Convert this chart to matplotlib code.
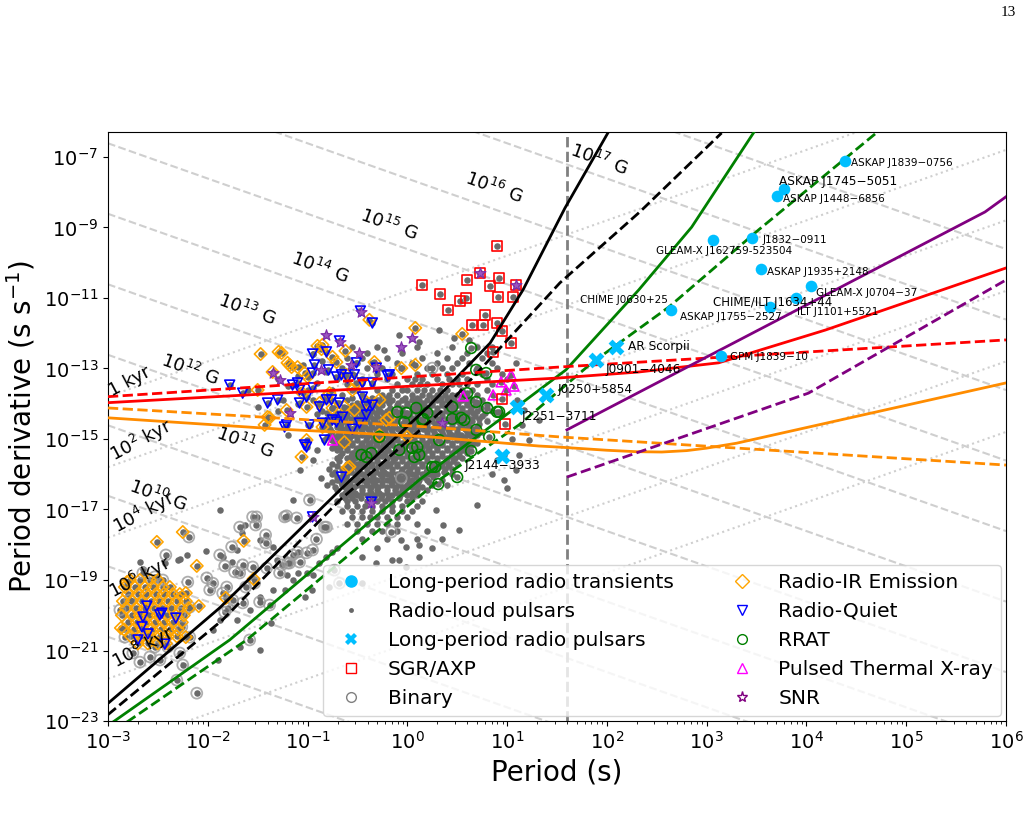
import matplotlib
matplotlib.use("Agg")
import matplotlib.pyplot as plt
from matplotlib.lines import Line2D
from matplotlib.ticker import NullLocator, LogLocator
import numpy as np

# all values below are log10 P [s] and log10 Pdot [s/s]

# long-period radio transients
lpt_names = ["ASKAP J1839\u22120756", "ASKAP J1745\u22125051", "ASKAP J1448\u22126856",
             "J1832\u22120911", "GLEAM-X J162759-523504", "ASKAP J1935+2148",
             "GLEAM-X J0704\u221237", "CHIME/ILT J1634+44", "ILT J1101+5521",
             "ASKAP J1755\u22122527", "GPM J1839\u221210"]
lpt_logp = [4.39, 3.78, 3.71, 3.45, 3.06, 3.54, 4.05, 3.90, 3.64, 2.64, 3.14]
lpt_logpdot = [-7.11, -7.91, -8.11, -9.30, -9.35, -10.18, -10.66, -11.00, -11.26, -11.34, -12.65]

# long-period radio pulsars
lprp_names = ["AR Scorpii", "J0901\u22124046", "J0250+5854", "J2251\u22123711", "J2144\u22123933"]
lprp_logp = [2.09, 1.89, 1.39, 1.10, 0.95]
lprp_logpdot = [-12.39, -12.76, -13.75, -14.09, -15.48]

sgr_axp = [(0.90, -9.52), (0.73, -10.29), (0.60, -10.49), (0.92, -10.43), (0.15, -10.63),
           (0.83, -10.66), (0.33, -10.89), (0.59, -11.00), (0.53, -11.09), (0.91, -10.97),
           (1.06, -10.97), (0.41, -11.34), (0.78, -11.48), (0.65, -11.77), (0.76, -11.77),
           (0.90, -11.71), (0.95, -11.94), (1.04, -12.28), (0.86, -12.53), (0.95, -13.87),
           (0.98, -14.57), (1.09, -10.63)]

snr = [(-0.81, -12.05), (-0.67, -12.25), (-1.35, -13.13), (-1.28, -13.33), (-0.48, -12.56),
       (-0.31, -12.96), (-0.06, -12.39), (0.05, -12.13), (-0.46, -11.40), (-1.18, -14.26),
       (-0.56, -12.90), (-0.86, -13.04), (0.35, -14.55), (-0.36, -16.82), (-0.95, -17.21),
       (0.73, -10.29), (1.09, -10.63)]

thermal_xray = [(1.04, -13.18), (0.94, -13.38), (1.07, -13.50), (0.99, -13.61),
                (0.86, -13.75), (0.56, -13.78), (-0.75, -15.03)]

rrat = [(0.64, -12.42), (0.69, -13.04), (0.79, -13.13), (-0.10, -14.23), (-0.01, -14.26),
        (0.09, -14.12), (0.16, -14.43), (-0.03, -14.52), (0.45, -14.09), (0.54, -14.40),
        (0.45, -14.43), (0.69, -13.95), (0.80, -14.12), (0.90, -14.23), (0.60, -13.70),
        (0.05, -15.26), (0.07, -15.51), (-0.46, -15.45), (-0.41, -15.51), (0.64, -15.34),
        (0.50, -16.08), (0.31, -16.28), (0.82, -14.94), (0.20, -14.26), (0.15, -14.46),
        (-0.36, -15.40), (0.10, -15.23), (0.12, -15.45), (0.32, -15.03), (0.57, -14.46),
        (0.92, -14.23), (0.28, -15.79), (-0.28, -14.94), (-0.08, -15.31), (0.25, -15.79),
        (0.69, -14.74)]

radio_ir = [(-1.47, -12.59), (-1.29, -12.53), (-1.20, -12.84), (-1.16, -12.96), (-1.35, -13.10),
            (-0.90, -12.36), (-0.86, -12.45), (-0.75, -12.67), (-0.62, -12.50), (-0.38, -11.62),
            (0.08, -11.85), (0.55, -12.02), (-0.33, -12.82), (-0.06, -12.99), (0.08, -12.90),
            (-1.10, -12.96), (-1.00, -13.24), (-1.05, -13.70), (-0.61, -13.18), (-0.55, -13.61),
            (-0.81, -13.81), (-1.38, -14.40), (-1.01, -14.09), (-0.75, -14.12), (-0.18, -14.40),
            (-0.28, -13.89), (-1.43, -14.60), (-1.50, -13.61), (-0.85, -12.33), (-1.26, -12.56),
            (-1.18, -12.90), (-1.03, -13.13), (-0.71, -12.82), (-0.51, -13.41), (-0.63, -14.09),
            (-0.53, -14.18), (-0.78, -13.70), (-0.28, -14.89), (0.00, -14.94), (-0.63, -15.09),
            (-1.01, -15.03), (-1.06, -15.51), (-0.58, -15.79), (-1.21, -14.18), (-0.85, -14.66),
            (-0.88, -13.98), (-0.41, -13.95), (-1.40, -14.38), (-0.21, -14.46), (-0.60, -15.82),
            # millisecond pulsars
            (-2.78, -19.0), (-2.68, -19.0), (-2.58, -19.0), (-2.50, -19.0),
            (-2.83, -19.2), (-2.73, -19.2), (-2.63, -19.2), (-2.55, -19.2), (-2.45, -19.2), (-2.38, -19.2),
            (-2.80, -19.4), (-2.70, -19.4), (-2.62, -19.4), (-2.52, -19.4), (-2.44, -19.4), (-2.35, -19.4),
            (-2.28, -19.4), (-2.85, -19.6), (-2.76, -19.6), (-2.66, -19.6), (-2.57, -19.6), (-2.49, -19.6),
            (-2.40, -19.6), (-2.31, -19.6), (-2.22, -19.6), (-2.82, -19.8), (-2.72, -19.8), (-2.63, -19.8),
            (-2.54, -19.8), (-2.46, -19.8), (-2.37, -19.8), (-2.27, -19.8), (-2.19, -19.8),
            (-2.86, -20.0), (-2.76, -20.0), (-2.68, -20.0), (-2.59, -20.0), (-2.50, -20.0), (-2.41, -20.0),
            (-2.32, -20.0), (-2.24, -20.0), (-2.80, -20.2), (-2.71, -20.2), (-2.62, -20.2), (-2.53, -20.2),
            (-2.44, -20.2), (-2.35, -20.2), (-2.26, -20.2), (-2.84, -20.4), (-2.74, -20.4), (-2.65, -20.4),
            (-2.56, -20.4), (-2.47, -20.4), (-2.38, -20.4), (-2.30, -20.4), (-2.77, -20.6), (-2.67, -20.6),
            (-2.58, -20.6), (-2.48, -20.6), (-2.40, -20.6), (-2.31, -20.6), (-2.70, -20.8), (-2.60, -20.8),
            (-2.50, -20.8), (-2.42, -20.8),
            (-2.51, -17.92), (-2.25, -17.64), (-2.11, -18.60), (-1.64, -17.89), (-2.22, -19.37),
            (-2.09, -19.74), (-1.82, -19.51), (-1.54, -18.97), (-2.22, -20.62), (-2.87, -20.36),
            (-2.81, -19.06)]

radio_quiet = [(-1.78, -13.47), (-1.65, -13.70), (-1.40, -13.98), (-1.30, -13.89), (-1.21, -14.60),
               (-0.95, -12.59), (-0.93, -12.90), (-0.81, -12.53), (-0.68, -12.22), (-0.47, -11.37),
               (-0.35, -11.71), (-0.79, -13.04), (-0.71, -13.24), (-0.60, -13.27), (-0.51, -12.84),
               (-0.45, -13.41), (-0.31, -12.99), (-0.20, -13.21), (-1.15, -13.47), (-1.08, -13.61),
               (-1.01, -13.81), (-0.95, -13.55), (-1.08, -13.98), (-0.81, -13.89), (-0.88, -14.09),
               (-0.68, -13.98), (-0.65, -14.38), (-0.45, -13.81), (-0.41, -14.09), (-0.35, -14.04),
               (-0.98, -14.60), (-0.75, -14.46), (-0.95, -13.13), (-0.66, -13.18), (-0.53, -13.18),
               (-0.18, -13.18), (-1.10, -13.41), (-0.76, -13.89), (-0.41, -14.32), (-0.48, -14.55),
               (-0.55, -14.72), (-0.71, -14.52), (-0.85, -14.55), (-1.23, -14.66), (-0.83, -15.03),
               (-1.01, -15.23), (-0.66, -16.08), (-0.36, -16.79), (-0.35, -13.41), (-1.03, -15.17),
               (-0.95, -17.21),
               (-2.61, -19.74), (-2.65, -20.05), (-2.48, -19.99), (-2.46, -19.94), (-2.32, -20.08),
               (-2.66, -20.33), (-2.60, -20.53), (-2.70, -20.70), (-2.43, -20.82)]

binary = [(-2.42, -18.29), (-2.19, -17.78), (-2.65, -18.80), (-2.53, -18.91), (-2.45, -19.00),
          (-2.20, -19.06), (-2.01, -18.94), (-1.95, -19.09), (-1.83, -18.60), (-1.73, -18.77),
          (-1.65, -18.57), (-1.53, -19.09), (-1.41, -18.66), (-1.26, -18.57), (-1.18, -18.52),
          (-1.10, -18.21), (-0.95, -18.15), (-1.42, -17.95), (-1.51, -17.21), (-1.52, -17.44),
          (-1.21, -17.18), (-0.98, -16.73), (-0.83, -17.50), (-0.91, -17.84), (-1.15, -18.29),
          (-1.85, -19.37), (-1.98, -19.28), (-1.75, -19.57), (-1.62, -19.20), (-1.65, -19.65),
          (-1.38, -19.71), (-1.48, -19.62), (-2.18, -19.77), (-2.28, -19.94), (-2.26, -20.33),
          (-2.18, -20.62), (-2.40, -20.90), (-2.53, -20.90), (-2.68, -21.33), (-2.58, -21.18),
          (-2.48, -21.27), (-2.28, -21.07), (-2.25, -21.41), (-2.31, -21.84), (-2.11, -22.21),
          (-1.58, -20.70), (-1.83, -19.91), (-2.78, -19.57), (-2.88, -19.85), (-2.83, -20.62),
          (-2.75, -21.07), (-1.88, -18.29), (-1.76, -18.06), (-1.68, -17.50), (-1.55, -17.21),
          (-1.42, -17.72), (-1.23, -17.21), (-1.11, -17.24), (-0.81, -17.50), (-1.01, -18.23),
          (-1.08, -18.49), (-1.20, -18.52), (-1.28, -18.80), (-1.55, -18.63), (-1.68, -18.80),
          (-1.81, -19.20), (-1.80, -19.79), (-0.73, -18.72), (-0.16, -17.64), (0.25, -12.99),
          (-0.06, -16.11), (-0.68, -19.09)]

# radio-loud pulsar cloud, read row by row: (log Pdot, [log P, ...])
cloud_rows = [
    (-12.40, [-0.55, -0.30, 0.10, 0.45, 0.70, 0.85]),
    (-12.55, [-0.40, -0.05, 0.30, 0.60, 0.80]),
    (-12.70, [-0.60, -0.45, -0.20, 0.15, 0.40, 0.55, 0.75]),
    (-12.85, [-0.50, -0.35, -0.10, 0.05, 0.30, 0.50, 0.62, 0.85]),
    (-13.00, [-0.65, -0.40, -0.25, -0.05, 0.20, 0.35, 0.45, 0.70, 0.90]),
    (-13.15, [-0.55, -0.30, -0.15, 0.10, 0.25, 0.40, 0.55, 0.75, 0.95]),
    (-13.30, [-0.70, -0.45, -0.20, 0.00, 0.08, 0.15, 0.30, 0.42, 0.50, 0.60, 0.80]),
    (-13.45, [-0.60, -0.35, -0.10, 0.05, 0.13, 0.20, 0.35, 0.45, 0.52, 0.60, 0.70, 0.85]),
    (-13.60, [-0.75, -0.50, -0.30, -0.15, -0.05, 0.00, 0.10, 0.17, 0.25, 0.33, 0.40, 0.55, 0.65, 0.80]),
    (-13.75, [-0.65, -0.45, -0.25, -0.18, -0.10, 0.05, 0.15, 0.22, 0.30, 0.38, 0.45, 0.50, 0.58, 0.70]),
    (-13.825, [-0.55, -0.35, -0.20, -0.02, 0.10, 0.26, 0.34, 0.42, 0.62]),
    (-13.90, [-0.80, -0.60, -0.40, -0.30, -0.22, -0.15, -0.05, 0.05, 0.12, 0.20, 0.30, 0.40, 0.47,
              0.55, 0.65, 0.75]),
    (-13.975, [-0.70, -0.50, -0.35, -0.26, -0.18, -0.09, 0.00, 0.08, 0.16, 0.25, 0.35, 0.44, 0.51,
               0.60, 0.70]),
    (-14.05, [-0.70, -0.55, -0.47, -0.40, -0.33, -0.25, -0.10, 0.00, 0.10, 0.17, 0.25, 0.35, 0.43,
              0.50, 0.60, 0.68, 0.80]),
    (-14.125, [-0.75, -0.60, -0.51, -0.44, -0.37, -0.29, -0.17, -0.05, 0.05, 0.13, 0.21, 0.30, 0.39,
               0.46, 0.55, 0.64, 0.74]),
    (-14.20, [-0.85, -0.65, -0.57, -0.50, -0.42, -0.35, -0.27, -0.20, -0.12, -0.05, 0.05, 0.15, 0.22,
              0.30, 0.40, 0.47, 0.55, 0.63, 0.70, 0.85]),
    (-14.275, [-0.80, -0.70, -0.61, -0.54, -0.46, -0.39, -0.31, -0.24, -0.16, -0.09, 0.00, 0.10, 0.18,
               0.26, 0.35, 0.43, 0.51, 0.59, 0.66, 0.78]),
    (-14.35, [-0.75, -0.67, -0.60, -0.52, -0.45, -0.37, -0.30, -0.22, -0.15, -0.05, 0.03, 0.10, 0.20,
              0.27, 0.35, 0.45, 0.53, 0.60, 0.68, 0.75]),
    (-14.425, [-0.80, -0.71, -0.64, -0.56, -0.49, -0.41, -0.34, -0.26, -0.19, -0.10, -0.01, 0.06, 0.15,
               0.23, 0.31, 0.40, 0.49, 0.56, 0.64, 0.72]),
    (-14.50, [-0.85, -0.70, -0.62, -0.55, -0.47, -0.40, -0.32, -0.25, -0.17, -0.10, 0.00, 0.07, 0.15,
              0.25, 0.32, 0.40, 0.50, 0.57, 0.65, 0.80]),
    (-14.575, [-0.78, -0.66, -0.59, -0.51, -0.44, -0.36, -0.29, -0.21, -0.14, -0.05, 0.03, 0.10, 0.20,
               0.28, 0.36, 0.45, 0.53, 0.61, 0.72]),
    (-14.65, [-0.80, -0.70, -0.60, -0.50, -0.42, -0.35, -0.27, -0.20, -0.12, -0.05, 0.05, 0.12, 0.20,
              0.30, 0.37, 0.45, 0.55, 0.62, 0.70]),
    (-14.725, [-0.77, -0.65, -0.55, -0.46, -0.39, -0.31, -0.24, -0.16, -0.09, 0.00, 0.08, 0.16, 0.25,
               0.33, 0.41, 0.50, 0.58, 0.66]),
    (-14.80, [-0.75, -0.67, -0.60, -0.52, -0.45, -0.37, -0.30, -0.22, -0.15, -0.05, 0.03, 0.10, 0.20,
              0.27, 0.35, 0.42, 0.50, 0.60, 0.67, 0.75]),
    (-14.875, [-0.77, -0.69, -0.61, -0.54, -0.45, -0.36, -0.29, -0.21, -0.13, -0.05, 0.04, 0.11, 0.20,
               0.29, 0.36, 0.45, 0.54, 0.62, 0.70]),
    (-14.95, [-0.80, -0.72, -0.65, -0.57, -0.50, -0.40, -0.32, -0.25, -0.17, -0.10, 0.00, 0.07, 0.15,
              0.25, 0.32, 0.40, 0.50, 0.57, 0.65]),
    (-15.025, [-0.75, -0.67, -0.59, -0.50, -0.41, -0.34, -0.26, -0.19, -0.10, -0.01, 0.07, 0.15, 0.23,
               0.31, 0.40, 0.50, 0.58, 0.66]),
    (-15.10, [-0.70, -0.62, -0.55, -0.45, -0.37, -0.30, -0.22, -0.15, -0.05, 0.03, 0.10, 0.20, 0.27,
              0.35, 0.45, 0.55, 0.62, 0.70]),
    (-15.175, [-0.72, -0.64, -0.55, -0.46, -0.39, -0.31, -0.24, -0.15, -0.07, 0.01, 0.10, 0.18, 0.26,
               0.35, 0.45, 0.55, 0.65]),
    (-15.25, [-0.75, -0.67, -0.60, -0.50, -0.42, -0.35, -0.27, -0.20, -0.10, -0.03, 0.05, 0.15, 0.22,
              0.30, 0.40, 0.50, 0.60]),
    (-15.325, [-0.70, -0.60, -0.51, -0.44, -0.35, -0.26, -0.19, -0.11, -0.03, 0.05, 0.13, 0.21, 0.30,
               0.40, 0.48, 0.56]),
    (-15.40, [-0.65, -0.55, -0.47, -0.40, -0.30, -0.22, -0.15, -0.07, 0.00, 0.10, 0.17, 0.25, 0.35,
              0.45, 0.52, 0.60]),
    (-15.475, [-0.67, -0.56, -0.49, -0.41, -0.34, -0.25, -0.16, -0.08, 0.00, 0.09, 0.16, 0.25, 0.35,
               0.44, 0.52]),
    (-15.55, [-0.70, -0.60, -0.52, -0.45, -0.37, -0.30, -0.20, -0.12, -0.05, 0.05, 0.12, 0.20, 0.30,
              0.40, 0.48, 0.55]),
    (-15.625, [-0.68, -0.55, -0.46, -0.39, -0.30, -0.21, -0.14, -0.05, 0.03, 0.11, 0.20, 0.30, 0.39, 0.46]),
    (-15.70, [-0.75, -0.60, -0.50, -0.42, -0.35, -0.25, -0.17, -0.10, 0.00, 0.07, 0.15, 0.25, 0.35,
              0.42, 0.50]),
    (-15.775, [-0.70, -0.61, -0.54, -0.45, -0.36, -0.29, -0.20, -0.10, -0.01, 0.06, 0.15, 0.25, 0.34, 0.41]),
    (-15.85, [-0.78, -0.65, -0.57, -0.50, -0.40, -0.32, -0.25, -0.15, -0.05, 0.03, 0.10, 0.20, 0.30,
              0.38, 0.45]),
    (-15.925, [-0.72, -0.64, -0.56, -0.48, -0.40, -0.31, -0.23, -0.15, -0.06, 0.01, 0.10, 0.19, 0.26, 0.37]),
    (-16.00, [-0.75, -0.60, -0.52, -0.45, -0.35, -0.27, -0.20, -0.10, -0.02, 0.05, 0.15, 0.22, 0.30, 0.45]),
    (-16.075, [-0.70, -0.61, -0.50, -0.41, -0.34, -0.25, -0.16, -0.09, 0.00, 0.09, 0.17, 0.26]),
    (-16.15, [-0.70, -0.62, -0.55, -0.45, -0.37, -0.30, -0.20, -0.12, -0.05, 0.05, 0.12, 0.20, 0.35]),
    (-16.225, [-0.75, -0.66, -0.59, -0.50, -0.41, -0.34, -0.25, -0.16, -0.09, 0.02, 0.11, 0.22]),
    (-16.30, [-0.80, -0.65, -0.57, -0.50, -0.40, -0.32, -0.25, -0.15, -0.07, 0.00, 0.10, 0.25, 0.40]),
    (-16.375, [-0.72, -0.62, -0.53, -0.45, -0.36, -0.29, -0.20, -0.11, -0.03, 0.05, 0.15]),
    (-16.45, [-0.70, -0.60, -0.55, -0.45, -0.37, -0.30, -0.20, -0.12, -0.05, 0.10, 0.20]),
    (-16.525, [-0.62, -0.52, -0.45, -0.36, -0.28, -0.20, -0.10, -0.03, 0.05]),
    (-16.60, [-0.65, -0.57, -0.50, -0.40, -0.32, -0.25, -0.15, -0.07, 0.00, 0.10]),
    (-16.675, [-0.62, -0.55, -0.46, -0.35, -0.26, -0.19, -0.08, 0.05]),
    (-16.75, [-0.70, -0.60, -0.52, -0.40, -0.30, -0.22, -0.15, 0.00, 0.15]),
    (-16.90, [-0.60, -0.50, -0.42, -0.35, -0.25, -0.15, -0.05, 0.10]),
    (-17.05, [-0.65, -0.55, -0.45, -0.35, -0.25, -0.15, -0.05, 0.05]),
    (-17.20, [-0.55, -0.45, -0.37, -0.30, -0.20, -0.10, 0.00]),
    (-17.40, [-0.60, -0.50, -0.40, -0.30, -0.20, -0.10, 0.10]),
    (-17.60, [-0.50, -0.35, -0.25, -0.10, 0.20]),
    (-17.85, [-0.45, -0.20, 0.10, 0.35]),
    (-18.10, [-0.30, 0.25]),
]

cloud_extra = [(-1.08, -15.88), (-1.15, -16.73), (-0.86, -16.10), (0.97, -15.45), (1.09, -15.88),
               (1.22, -15.03), (0.97, -16.16), (0.70, -16.87), (0.52, -17.58), (0.36, -17.44),
               (0.12, -18.00), (-0.08, -18.43), (-0.70, -18.09), (1.12, -15.45), (1.09, -12.84),
               (1.17, -14.18), (1.32, -14.46), (0.32, -11.91), (0.47, -12.13), (0.62, -12.19),
               (0.12, -12.25), (-0.08, -12.05), (-0.23, -12.48), (1.00, -13.30), (1.10, -13.90),
               (0.95, -14.30), (1.15, -14.60), (1.05, -15.00), (0.90, -15.60), (0.85, -16.00),
               (1.00, -16.40), (0.29, -17.01), (-0.06, -17.87), (0.12, -18.35), (-0.45, -18.35),
               (-0.31, -18.52), (-0.15, -18.43), (-0.01, -18.63), (-0.45, -19.09), (-0.01, -18.06),
               (-1.30, -13.30), (-1.20, -13.50), (-1.10, -13.20), (-1.00, -13.60), (-0.90, -13.40),
               (-0.80, -13.10), (-1.25, -13.90), (-1.10, -14.00), (-0.95, -13.90), (-0.90, -14.30),
               (-1.00, -14.60), (-0.85, -12.80), (-0.95, -12.60), (-1.05, -12.90), (-1.40, -14.40),
               (-1.20, -14.90), (-1.30, -14.20), (-0.90, -15.30), (-0.95, -15.60), (-1.60, -13.60),
               (-1.50, -14.10),
               (-1.88, -17.01), (-2.02, -18.18), (-2.28, -18.40), (-2.21, -18.29), (-1.85, -18.35),
               (-1.76, -18.49), (-1.71, -18.15), (-1.66, -17.67), (-1.63, -17.44), (-1.48, -17.87),
               (-1.35, -18.06), (-1.31, -18.43), (-1.21, -18.86), (-1.10, -18.80), (-1.01, -18.80),
               (-0.95, -18.86), (-0.88, -18.52), (-0.81, -18.35), (-0.75, -18.21), (-1.23, -19.28),
               (-1.35, -19.28), (-1.48, -19.48), (-1.58, -19.85), (-1.71, -20.13), (-1.88, -20.13),
               (-1.95, -20.42), (-1.68, -20.90), (-1.90, -21.27), (-1.48, -20.99), (-0.78, -19.20),
               (-1.03, -19.48), (-1.15, -19.00), (-0.96, -19.28), (-1.37, -20.22),
               (-2.68, -18.49), (-2.43, -18.52), (-2.30, -18.43), (-2.65, -18.70)]

# model lines: (log P, log Pdot) vertices
black_solid = ([-3.0, -1.88, -0.675, 0.226, 0.83, 1.16, 1.58, 2.01],
               [-22.5, -19.79, -16.45, -14.04, -12.28, -10.77, -8.45, -6.32])
black_dashed = ([-3.0, -1.85, -0.675, 0.357, 1.03, 1.53, 2.33, 3.15],
                [-22.82, -20.13, -16.73, -14.18, -12.11, -10.57, -8.56, -6.32])
green_solid = ([-2.95, -1.78, 0.12, 1.12, 1.59, 2.32, 2.85, 3.49],
               [-23.03, -20.70, -16.16, -14.04, -13.04, -10.77, -8.99, -6.23])
green_dashed = ([-2.81, -1.61, 0.32, 1.12, 1.85, 2.62, 3.52, 4.70],
                [-23.03, -20.70, -16.16, -14.60, -12.84, -11.26, -9.07, -6.32])
red_solid = ([-3.0, -1.28, -0.08, 1.52, 2.32, 3.12, 4.19, 6.0],
             [-13.97, -13.70, -13.52, -13.27, -13.10, -12.84, -11.91, -10.15])
red_dashed = ([-3.0, 1.52, 6.0], [-13.80, -12.96, -12.19])
orange_solid = ([-3.0, -1.28, 0.22, 1.32, 1.52, 2.0, 2.29, 2.55, 2.8, 3.0, 3.3, 6.0],
                [-14.40, -14.72, -14.94, -15.20, -15.23, -15.32, -15.36, -15.37, -15.33,
                 -15.26, -15.12, -13.41])
orange_dashed = ([-3.0, 0.22, 1.52, 6.0], [-14.12, -14.66, -14.94, -15.74])
purple_solid = ([1.6, 5.79, 6.0], [-14.74, -8.56, -8.13])
purple_dashed = ([1.6, 4.02, 6.0], [-16.08, -13.70, -10.49])

p_cut = 40.0  # s, vertical marker
b_fields = [1e8, 1e9, 1e10, 1e11, 1e12, 1e13, 1e14, 1e15, 1e16, 1e17, 1e18]
ages_kyr = [1.0, 1e2, 1e4, 1e6, 1e8, 1e10]

b_labels = [(r"$10^{17}$ G", 1.92, -7.09), (r"$10^{16}$ G", 0.87, -7.88),
            (r"$10^{15}$ G", -0.18, -8.93), (r"$10^{14}$ G", -0.88, -10.15),
            (r"$10^{13}$ G", -1.61, -11.34), (r"$10^{12}$ G", -2.18, -13.04),
            (r"$10^{11}$ G", -1.63, -15.11), (r"$10^{10}$ G", -2.50, -16.62)]
age_labels = [("1 kyr", -2.78, -13.38), (r"$10^{2}$ kyr", -2.67, -15.03),
              (r"$10^{4}$ kyr", -2.64, -17.07), (r"$10^{6}$ kyr", -2.68, -18.94),
              (r"$10^{8}$ kyr", -2.65, -20.90)]

# annotation offsets (points) for the labelled sources
lpt_label_style = [(0, 4, -1.5, 7.5), (1, -4, 5.5, 8.7), (2, 4, -2, 7.5), (3, 8, -1.5, 7.5),
                   (4, -41, -8, 7.5), (5, 5, -2, 7.5), (6, 3, -5, 7.5), (7, -60, -3, 8.5),
                   (8, 19, -3.5, 7.5), (9, 6.5, -5, 7.5), (10, 7, -0.7, 7.5)]
chime_label = ("CHIME J0630+25", 9, -65, 7)
lprp_label_style = [(9, 0), (7, -6.5), (8, 3.6), (3, -7), (-27, -7)]


def unpack(pairs):
    a = np.array(pairs)
    return 10 ** a[:, 0], 10 ** a[:, 1]


fig = plt.figure(figsize=(10.34, 8.26), dpi=100)
ax = fig.add_axes([0.1044, 0.1271, 0.8685, 0.7131])
ax.set_xscale("log")
ax.set_yscale("log")
ax.set_xlim(1e-3, 1e6)
ax.set_ylim(1e-23, 5.1e-7)

# constant B and characteristic age guides
pgrid = np.array([1e-3, 1e6])
for b in b_fields:
    ax.plot(pgrid, (b / 6.4e19) ** 2 / pgrid, color="#cfcfcf", ls="--", lw=1.5, zorder=1)
for t in ages_kyr:
    ax.plot(pgrid, pgrid / (2 * t * 3.156e10), color="#cfcfcf", ls=":", lw=1.5, zorder=1)
ax.axvline(p_cut, color="gray", ls="--", lw=2, zorder=1.5)

# radio-loud pulsars (every catalogued source gets a grey dot)
cloud = [(lp, row[0]) for row in cloud_rows for lp in row[1]]
all_grey = cloud + cloud_extra + binary + radio_ir + radio_quiet + rrat + thermal_xray + sgr_axp + snr
gx, gy = unpack(all_grey)
ax.scatter(gx, gy, s=22, color="#6a6a6a", lw=0, zorder=2)

bx, by = unpack(binary)
ax.scatter(bx, by, s=62, facecolors="none", edgecolors="#9a9a9a", lw=1.3, alpha=0.8, zorder=3)
x, y = unpack(radio_ir)
ax.scatter(x, y, s=40, marker="D", facecolors="none", edgecolors="orange", lw=1.2, zorder=4)
x, y = unpack(radio_quiet)
ax.scatter(x, y, s=50, marker="v", facecolors="none", edgecolors="blue", lw=1.2, zorder=4)
x, y = unpack(rrat)
ax.scatter(x, y, s=60, marker="o", facecolors="none", edgecolors="green", lw=1.2, zorder=4)
x, y = unpack(thermal_xray)
ax.scatter(x, y, s=50, marker="^", facecolors="none", edgecolors="magenta", lw=1.2, zorder=4)
x, y = unpack(sgr_axp)
ax.scatter(x, y, s=55, marker="s", facecolors="none", edgecolors="red", lw=1.2, zorder=4)
x, y = unpack(snr)
ax.scatter(x, y, s=70, marker="*", facecolors="#9a55c0", edgecolors="#7d2aa8", lw=0.8, zorder=4.2)

# model lines
for (lp, lpd), col, ls in [(black_solid, "black", "-"), (black_dashed, "black", "--"),
                           (green_solid, "green", "-"), (green_dashed, "green", "--"),
                           (red_solid, "red", "-"), (red_dashed, "red", "--"),
                           (orange_solid, "darkorange", "-"), (orange_dashed, "darkorange", "--"),
                           (purple_solid, "purple", "-"), (purple_dashed, "purple", "--")]:
    ax.plot(10 ** np.array(lp), 10 ** np.array(lpd), color=col, ls=ls, lw=2, zorder=5)

# long-period objects
ax.scatter(10 ** np.array(lpt_logp), 10 ** np.array(lpt_logpdot), s=70, color="deepskyblue",
           lw=0, zorder=6)
ax.scatter(10 ** np.array(lprp_logp), 10 ** np.array(lprp_logpdot), s=130, marker="X",
           color="deepskyblue", lw=0, zorder=6)

for i, dx, dy, fs in lpt_label_style:
    ax.annotate(lpt_names[i], (10 ** lpt_logp[i], 10 ** lpt_logpdot[i]), xytext=(dx, dy),
                textcoords="offset points", ha="left", va="center", fontsize=fs, zorder=7)
name, i, dx, dy = chime_label
ax.annotate(name, (10 ** lpt_logp[i], 10 ** lpt_logpdot[i]), xytext=(dx, dy),
            textcoords="offset points", ha="left", va="center", fontsize=7.5, zorder=7)
for name, lp, lpd, (dx, dy) in zip(lprp_names, lprp_logp, lprp_logpdot, lprp_label_style):
    ax.annotate(name, (10 ** lp, 10 ** lpd), xytext=(dx, dy), textcoords="offset points",
                ha="left", va="center", fontsize=8.7, zorder=7)

for txt, lp, lpd in b_labels:
    ax.text(10 ** lp, 10 ** lpd, txt, rotation=-20, ha="center", va="center", fontsize=13, zorder=7)
for txt, lp, lpd in age_labels:
    ax.text(10 ** lp, 10 ** lpd, txt, rotation=28, ha="center", va="center", fontsize=13, zorder=7)

ax.set_xticks([10.0 ** k for k in range(-3, 7)])
ax.xaxis.set_minor_locator(LogLocator(base=10, subs=np.arange(2, 10), numticks=20))
ax.set_yticks([10.0 ** k for k in range(-23, -6, 2)])
ax.yaxis.set_minor_locator(NullLocator())
ax.tick_params(labelsize=14)
ax.set_xlabel("Period (s)", fontsize=20)
ax.set_ylabel(r"Period derivative (s s$^{-1}$)", fontsize=20)

handles = [
    Line2D([], [], ls="none", marker="o", color="deepskyblue", ms=8, label="Long-period radio transients"),
    Line2D([], [], ls="none", marker="o", color="#676767", ms=3.5, mew=0, label="Radio-loud pulsars"),
    Line2D([], [], ls="none", marker="X", color="deepskyblue", ms=9, mew=0, label="Long-period radio pulsars"),
    Line2D([], [], ls="none", marker="s", mfc="none", mec="red", ms=7, label="SGR/AXP"),
    Line2D([], [], ls="none", marker="o", mfc="none", mec="gray", ms=7, label="Binary"),
    Line2D([], [], ls="none", marker="D", mfc="none", mec="orange", ms=7, label="Radio-IR Emission"),
    Line2D([], [], ls="none", marker="v", mfc="none", mec="blue", ms=7, label="Radio-Quiet"),
    Line2D([], [], ls="none", marker="o", mfc="none", mec="green", ms=7, label="RRAT"),
    Line2D([], [], ls="none", marker="^", mfc="none", mec="magenta", ms=7, label="Pulsed Thermal X-ray"),
    Line2D([], [], ls="none", marker="*", mfc="none", mec="purple", ms=8, label="SNR"),
]
leg = ax.legend(handles=handles, ncol=2, loc="lower right", fontsize=14.5, framealpha=0.8,
                borderaxespad=0.25, columnspacing=2.4)
leg.set_zorder(10)

fig.text(0.975, 0.985, "13", ha="center", va="center", fontsize=11, family="Liberation Serif")

fig.savefig("out.png", dpi=100)
